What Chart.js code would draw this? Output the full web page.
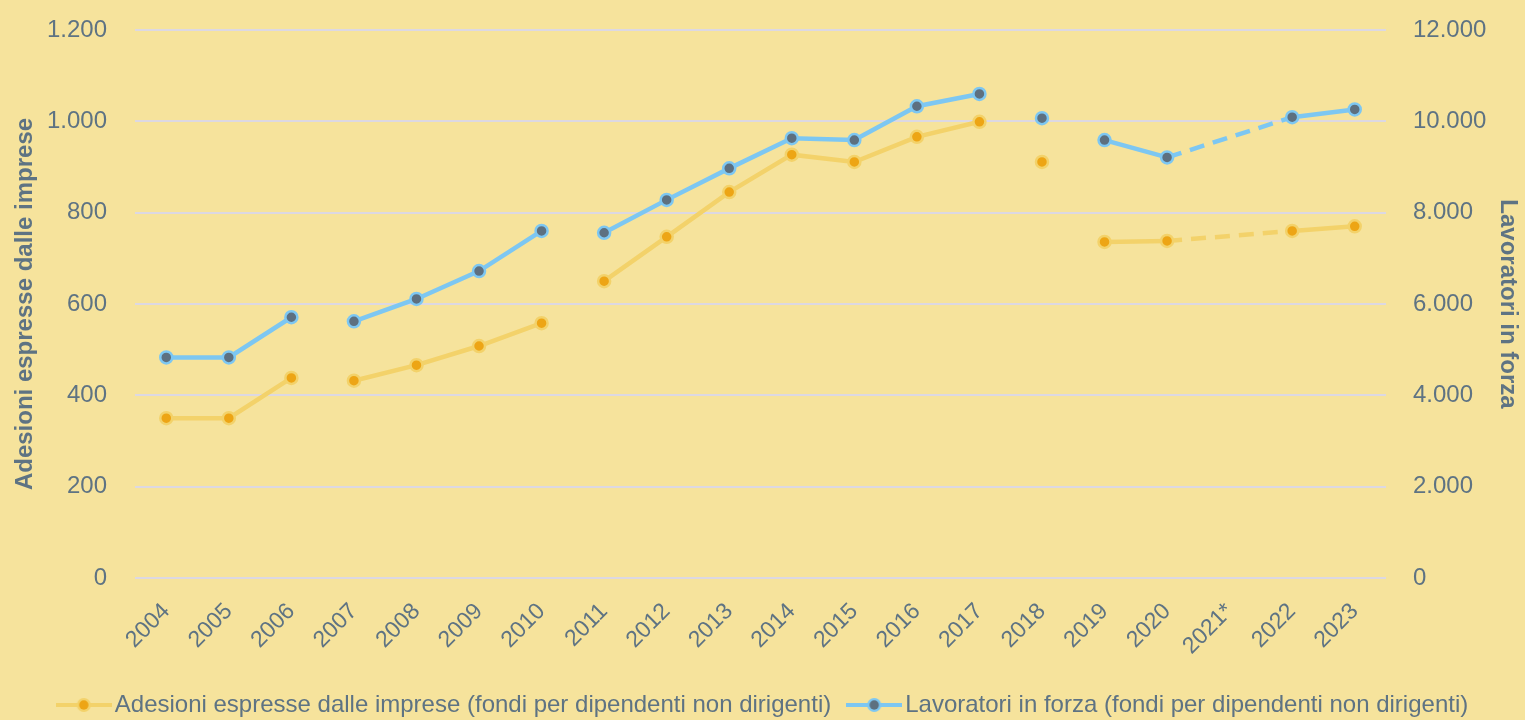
<!DOCTYPE html>
<html>
<head>
<meta charset="utf-8">
<script src="https://cdn.jsdelivr.net/npm/chart.js@4.4.1/dist/chart.umd.min.js"></script>
<style>
  html,body{margin:0;padding:0;background:#F6E39C;}
  #wrap{width:1525px;height:720px;}
</style>
</head>
<body>
<div id="wrap"><canvas id="c" width="1525" height="720"></canvas></div>
<script>
const years = ['2004','2005','2006','2007','2008','2009','2010','2011','2012','2013','2014','2015','2016','2017','2018','2019','2020','2021*','2022','2023'];
const adesioni = [350,350,438,432,466,508,558,650,747,845,927,911,966,999,911,736,738,null,760,770];
const lavoratori = [4830,4830,5710,5620,6110,6720,7600,7560,8280,8970,9630,9590,10330,10600,10070,9590,9210,null,10090,10260];
// the line is broken after these years; the step over 2021* is dashed
const breakAfter = ['2006','2010','2017','2018'];
const dashedOver = ['2021*'];

const txt = '#5E7383';
const fmt = v => String(v).replace(/\B(?=(\d{3})+(?!\d))/g, '.');

function segStyle(color){
  return {
    borderColor: ctx => breakAfter.includes(years[ctx.p0DataIndex]) ? 'transparent' : color,
    borderDash: ctx => (dashedOver.includes(years[ctx.p0DataIndex]) || dashedOver.includes(years[ctx.p1DataIndex])) ? [15, 9] : undefined
  };
}

function legendIcon(line, fill){
  const cv = document.createElement('canvas');
  cv.width = 56; cv.height = 18;
  const g = cv.getContext('2d');
  g.strokeStyle = line; g.lineWidth = 4;
  g.beginPath(); g.moveTo(0, 9); g.lineTo(56, 9); g.stroke();
  g.beginPath(); g.arc(28, 9, 7, 0, Math.PI * 2);
  g.fillStyle = line; g.fill();
  g.beginPath(); g.arc(28, 9, 4.7, 0, Math.PI * 2);
  g.fillStyle = fill; g.fill();
  return cv;
}

const iconA = legendIcon('#F3D26A', '#EDA515');
const iconB = legendIcon('#7DC7F2', '#5D7080');

Chart.defaults.font.family = '"Liberation Sans", Arial, sans-serif';
Chart.defaults.color = txt;

// fixed box sizes so the plot sits where the original one does
const fitY = w => s => { s.width = w; s.paddingTop = 30; s.paddingBottom = 0; };

new Chart(document.getElementById('c'), {
  type: 'line',
  data: {
    labels: years,
    datasets: [
      {
        label: 'Adesioni espresse dalle imprese (fondi per dipendenti non dirigenti)',
        data: adesioni, yAxisID: 'y',
        borderColor: '#F3D26A', borderWidth: 4.5,
        pointBackgroundColor: '#EDA515', pointBorderColor: '#F3D26A',
        pointRadius: 6, pointBorderWidth: 2.5, pointHoverRadius: 6,
        spanGaps: true, segment: segStyle('#F3D26A'),
        order: 2
      },
      {
        label: 'Lavoratori in forza (fondi per dipendenti non dirigenti)',
        data: lavoratori, yAxisID: 'y1',
        borderColor: '#7DC7F2', borderWidth: 4.5,
        pointBackgroundColor: '#5D7080', pointBorderColor: '#7DC7F2',
        pointRadius: 6, pointBorderWidth: 2.5, pointHoverRadius: 6,
        spanGaps: true, segment: segStyle('#7DC7F2'),
        order: 1
      }
    ]
  },
  options: {
    responsive: false,
    animation: false,
    layout: { padding: { top: 0, left: 13, right: 5, bottom: -7 } },
    plugins: {
      tooltip: { enabled: false },
      legend: {
        position: 'bottom',
        labels: {
          usePointStyle: true,
          pointStyleWidth: 38,
          padding: 24,
          font: { size: 24 },
          color: txt,
          generateLabels: chart => chart.data.datasets.map((ds, i) => ({
            text: ds.label, pointStyle: i === 0 ? iconA : iconB,
            fontColor: txt, datasetIndex: i, hidden: false, lineWidth: 0
          }))
        }
      }
    },
    scales: {
      x: {
        offset: true,
        grid: { display: false },
        border: { display: false },
        ticks: { minRotation: 45, maxRotation: 45, font: { size: 23 }, color: txt, padding: 12 },
        afterFit: s => { s.height = 91; }
      },
      y: {
        position: 'left', min: 0, max: 1200,
        ticks: { stepSize: 200, callback: fmt, font: { size: 24 }, color: txt, padding: 28 },
        grid: { color: '#DCD8E2', lineWidth: 2, drawTicks: false },
        border: { display: false },
        title: { display: true, text: 'Adesioni espresse dalle imprese', font: { size: 24, weight: 'bold', lineHeight: 1 }, color: txt, padding: { top: 0, bottom: 10 } },
        afterFit: fitY(122)
      },
      y1: {
        position: 'right', min: 0, max: 12000,
        ticks: { stepSize: 2000, callback: fmt, font: { size: 24 }, color: txt, padding: 27 },
        grid: { display: false, drawTicks: false },
        border: { display: false },
        title: { display: true, text: 'Lavoratori in forza', font: { size: 24, weight: 'bold', lineHeight: 1 }, color: txt, padding: { top: 0, bottom: 10 } },
        afterFit: fitY(134)
      }
    }
  }
});
</script>
</body>
</html>
